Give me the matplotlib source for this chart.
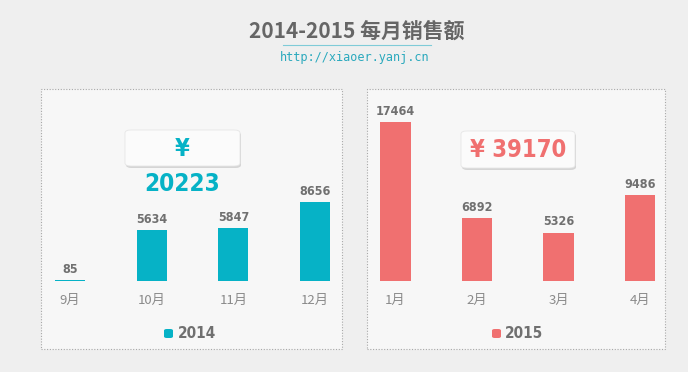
import matplotlib
matplotlib.use("Agg")
import matplotlib.pyplot as plt
from matplotlib.patches import FancyBboxPatch, Rectangle

W, H = 688, 372

months_2014 = ["9月", "10月", "11月", "12月"]
sales_2014 = [85, 5634, 5847, 8656]
months_2015 = ["1月", "2月", "3月", "4月"]
sales_2015 = [17464, 6892, 5326, 9486]
total_2014 = "20223"
total_2015 = "39170"
title = "2014-2015 每月销售额"
subtitle = "http://xiaoer.yanj.cn"

TEAL = "#06b2c6"
RED = "#f07070"
GRAY = "#707070"
LGRAY = "#8a8a8a"
CJK_FONT = ["Noto Sans CJK SC", "DejaVu Sans"]
NUM_KW = dict(family="DejaVu Sans", fontstretch="condensed", fontweight="bold")

fig = plt.figure(figsize=(W / 100, H / 100), dpi=100)
fig.patch.set_facecolor("#efefef")


def fx(x):
    return x / W


def fy(y):
    return 1 - y / H


def rect_px(x0, y0, x1, y1):
    return [fx(x0), fy(y1), fx(x1) - fx(x0), fy(y0) - fy(y1)]


# panels
for (x0, x1) in [(41, 342), (367, 665)]:
    fig.patches.append(Rectangle((fx(x0), fy(349)), fx(x1) - fx(x0), fy(89) - fy(349),
                                 transform=fig.transFigure, facecolor="#f7f7f7",
                                 edgecolor="#a8a8a8", linestyle=(0, (1, 1.5)),
                                 linewidth=0.8, zorder=-5))

# title
fig.text(fx(357), fy(31), title, ha="center", va="center", fontsize=15,
         fontweight="bold", color="#666666", family=["Noto Sans CJK SC"])
fig.add_artist(plt.Line2D([fx(283), fx(431)], [fy(45), fy(45)], color="#7fcbd8",
                          linewidth=0.8, transform=fig.transFigure))
fig.text(fx(355), fy(57), subtitle, ha="center", va="center", fontsize=8.6,
         color="#2aa9bd", family="DejaVu Sans Mono")

YMAX = 20000
bottom_px, top_px = 281, 99


def panel(xc0, xc3, cats, vals, color):
    step = (xc3 - xc0) / 3
    left = xc0 - 0.2 * step
    right = xc3 + 0.2 * step
    ax = fig.add_axes(rect_px(left, top_px, right, bottom_px))
    ax.set_zorder(1)
    ax.set_xlim(-0.2, 3.2)
    ax.set_ylim(0, YMAX)
    ax.patch.set_alpha(0)
    for s in ax.spines.values():
        s.set_visible(False)
    x = list(range(len(cats)))
    ax.bar(x, vals, width=0.37, color=color, zorder=2)
    for xi, v in zip(x, vals):
        ax.annotate(str(v), (xi, v), xytext=(0, 3), textcoords="offset points",
                    ha="center", va="bottom", fontsize=9, color=GRAY, **NUM_KW)
    ax.set_xticks(x)
    ax.set_xticklabels(cats, fontsize=9.5, color=LGRAY, family=CJK_FONT)
    ax.tick_params(axis="x", length=0, pad=9)
    ax.set_yticks([])
    return ax


ax1 = panel(70, 315, months_2014, sales_2014, TEAL)
ax2 = panel(395.5, 640, months_2015, sales_2015, RED)


def badge(x0, y0, x1, y1):
    sh = FancyBboxPatch((fx(x0 + 1), fy(y1 + 2)), fx(x1) - fx(x0), fy(y0) - fy(y1),
                        boxstyle="round,pad=0,rounding_size=0.008",
                        transform=fig.transFigure, facecolor="#d5d5d5",
                        edgecolor="none", zorder=3)
    fig.patches.append(sh)
    b = FancyBboxPatch((fx(x0), fy(y1)), fx(x1) - fx(x0), fy(y0) - fy(y1),
                       boxstyle="round,pad=0,rounding_size=0.008",
                       transform=fig.transFigure, facecolor="#fbfbfb",
                       edgecolor="#e6e6e6", linewidth=0.6, zorder=4)
    fig.patches.append(b)


badge(125, 130, 240, 166)
fig.text(fx(182), fy(149), "¥", ha="center", va="center", fontsize=17,
         color=TEAL, zorder=5, **NUM_KW)
fig.text(fx(182), fy(184), total_2014, ha="center", va="center", fontsize=17.5,
         color=TEAL, zorder=5, **NUM_KW)

badge(461, 131, 575, 168)
fig.text(fx(518), fy(150), "¥ " + total_2015, ha="center", va="center", fontsize=17,
         color=RED, zorder=5, **NUM_KW)

# legends
for (sx, tx, label, color) in [(164, 178, "2014", TEAL), (492, 505, "2015", RED)]:
    fig.patches.append(FancyBboxPatch((fx(sx), fy(338)), fx(9), fx(9) * W / H,
                                      boxstyle="round,pad=0,rounding_size=0.004",
                                      transform=fig.transFigure, facecolor=color,
                                      edgecolor="none", zorder=3))
    fig.text(fx(tx), fy(333), label, ha="left", va="center", fontsize=11,
             color=GRAY, **NUM_KW)

fig.savefig("out.png", dpi=100, facecolor=fig.get_facecolor())
